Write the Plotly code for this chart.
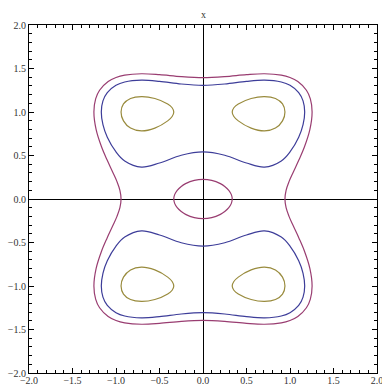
import plotly.graph_objects as go

# ---- contour curves (data coordinates) ----
# magenta level: outer closed curve
mag_outer_x = [0.942, 0.9551, 0.9889, 1.0332, 1.1031, 1.1664, 1.2289, 1.254, 1.234, 1.1887, 1.09, 1.0, 0.9, 0.7071, 0.5, 0.25, 0.0,
               -0.25, -0.5, -0.7071, -0.9, -1.0, -1.09, -1.1887, -1.234, -1.254, -1.2289, -1.1664, -1.1031, -1.0332, -0.9889, -0.9551, -0.942,
               -0.9551, -0.9889, -1.0332, -1.1031, -1.1664, -1.2289, -1.254, -1.234, -1.1887, -1.09, -1.0, -0.9, -0.7071, -0.5, -0.25, 0.0,
               0.25, 0.5, 0.7071, 0.9, 1.0, 1.09, 1.1887, 1.234, 1.254, 1.2289, 1.1664, 1.1031, 1.0332, 0.9889, 0.9551, 0.942]
mag_outer_y = [0.0, 0.1, 0.2, 0.3, 0.45, 0.6, 0.8, 1.0, 1.15, 1.25, 1.35, 1.396, 1.4236, 1.4397, 1.4293, 1.4071, 1.396,
               1.4071, 1.4293, 1.4397, 1.4236, 1.396, 1.35, 1.25, 1.15, 1.0, 0.8, 0.6, 0.45, 0.3, 0.2, 0.1, 0.0,
               -0.1, -0.2, -0.3, -0.45, -0.6, -0.8, -1.0, -1.15, -1.25, -1.35, -1.396, -1.4236, -1.4397, -1.4293, -1.4071, -1.396,
               -1.4071, -1.4293, -1.4397, -1.4236, -1.396, -1.35, -1.25, -1.15, -1.0, -0.8, -0.6, -0.45, -0.3, -0.2, -0.1, 0.0]

# magenta level: small loop round the origin
mag_inner_x = [0.3357, 0.326, 0.2963, 0.25, 0.2, 0.1, 0.0, -0.1, -0.2, -0.25, -0.2963, -0.326, -0.3357,
               -0.326, -0.2963, -0.25, -0.2, -0.1, 0.0, 0.1, 0.2, 0.25, 0.2963, 0.326, 0.3357]
mag_inner_y = [0.0, 0.05, 0.1, 0.1446, 0.1769, 0.2147, 0.2265, 0.2147, 0.1769, 0.1446, 0.1, 0.05, 0.0,
               -0.05, -0.1, -0.1446, -0.1769, -0.2147, -0.2265, -0.2147, -0.1769, -0.1446, -0.1, -0.05, 0.0]

# blue level: upper and lower closed curves
blue_up_x = [-1.1688, -1.15, -1.1, -1.0, -0.9, -0.7071, -0.5, -0.25, 0.0, 0.25, 0.5, 0.7071, 0.9, 1.0, 1.1, 1.15, 1.1688,
             1.15, 1.1, 1.0, 0.9, 0.7071, 0.5, 0.25, 0.0, -0.25, -0.5, -0.7071, -0.9, -1.0, -1.1, -1.15, -1.1688]
blue_up_y = [1.0, 1.1274, 1.2231, 1.3066, 1.3447, 1.366, 1.3525, 1.3219, 1.3066, 1.3219, 1.3525, 1.366, 1.3447, 1.3066, 1.2231, 1.1274, 1.0,
             0.8538, 0.71, 0.5412, 0.4375, 0.366, 0.4133, 0.5026, 0.5412, 0.5026, 0.4133, 0.366, 0.4375, 0.5412, 0.71, 0.8538, 1.0]
blue_lo_x = [-1.1688, -1.15, -1.1, -1.0, -0.9, -0.7071, -0.5, -0.25, 0.0, 0.25, 0.5, 0.7071, 0.9, 1.0, 1.1, 1.15, 1.1688,
             1.15, 1.1, 1.0, 0.9, 0.7071, 0.5, 0.25, 0.0, -0.25, -0.5, -0.7071, -0.9, -1.0, -1.1, -1.15, -1.1688]
blue_lo_y = [-1.0, -1.1274, -1.2231, -1.3066, -1.3447, -1.366, -1.3525, -1.3219, -1.3066, -1.3219, -1.3525, -1.366, -1.3447, -1.3066, -1.2231, -1.1274, -1.0,
             -0.8538, -0.71, -0.5412, -0.4375, -0.366, -0.4133, -0.5026, -0.5412, -0.5026, -0.4133, -0.366, -0.4375, -0.5412, -0.71, -0.8538, -1.0]

# gold level: four small loops
gold_ur_x = [0.942, 0.914, 0.833, 0.7071, 0.5534, 0.4057, 0.3548, 0.3357, 0.3548, 0.4057, 0.5534, 0.7071, 0.833, 0.914, 0.942]
gold_ur_y = [1.0, 1.0926, 1.1556, 1.1778, 1.1556, 1.0926, 1.0489, 1.0, 0.9486, 0.898, 0.8152, 0.7828, 0.8152, 0.898, 1.0]
gold_ul_x = [-0.942, -0.914, -0.833, -0.7071, -0.5534, -0.4057, -0.3548, -0.3357, -0.3548, -0.4057, -0.5534, -0.7071, -0.833, -0.914, -0.942]
gold_ul_y = [1.0, 1.0926, 1.1556, 1.1778, 1.1556, 1.0926, 1.0489, 1.0, 0.9486, 0.898, 0.8152, 0.7828, 0.8152, 0.898, 1.0]
gold_lr_x = [0.942, 0.914, 0.833, 0.7071, 0.5534, 0.4057, 0.3548, 0.3357, 0.3548, 0.4057, 0.5534, 0.7071, 0.833, 0.914, 0.942]
gold_lr_y = [-1.0, -1.0926, -1.1556, -1.1778, -1.1556, -1.0926, -1.0489, -1.0, -0.9486, -0.898, -0.8152, -0.7828, -0.8152, -0.898, -1.0]
gold_ll_x = [-0.942, -0.914, -0.833, -0.7071, -0.5534, -0.4057, -0.3548, -0.3357, -0.3548, -0.4057, -0.5534, -0.7071, -0.833, -0.914, -0.942]
gold_ll_y = [-1.0, -1.0926, -1.1556, -1.1778, -1.1556, -1.0926, -1.0489, -1.0, -0.9486, -0.898, -0.8152, -0.7828, -0.8152, -0.898, -1.0]

tick_vals = [-2.0, -1.5, -1.0, -0.5, 0.0, 0.5, 1.0, 1.5, 2.0]
axis_label = "x"

MAG = "#993D71"
BLUE = "#3D3D99"
GOLD = "#998B3D"

curves = [
    (mag_outer_x, mag_outer_y, MAG),
    (mag_inner_x, mag_inner_y, MAG),
    (blue_up_x, blue_up_y, BLUE),
    (blue_lo_x, blue_lo_y, BLUE),
    (gold_ur_x, gold_ur_y, GOLD),
    (gold_ul_x, gold_ul_y, GOLD),
    (gold_lr_x, gold_lr_y, GOLD),
    (gold_ll_x, gold_ll_y, GOLD),
]

fig = go.Figure()
for cx, cy, col in curves:
    fig.add_trace(go.Scatter(x=cx, y=cy, mode="lines",
                             line=dict(color=col, width=1.2, shape="spline", smoothing=1.0),
                             hoverinfo="skip", showlegend=False))

SERIF = "Liberation Serif"
font = dict(family=SERIF, size=10, color="#333333")
axis_common = dict(
    range=[-2, 2], showgrid=False, zeroline=True, zerolinecolor="black", zerolinewidth=1,
    showline=True, linecolor="black", linewidth=1, mirror="ticks",
    ticks="inside", ticklen=5, tickwidth=1, tickcolor="black",
    tickmode="array", tickvals=tick_vals, tickformat=".1f",
    minor=dict(dtick=0.1, tick0=0, ticks="inside", ticklen=3, tickwidth=1, tickcolor="black", showgrid=False),
    tickfont=font, fixedrange=True, ticklabeloverflow="allow",
)
fig.update_xaxes(ticklabelstandoff=-2, **axis_common)
fig.update_yaxes(ticklabelstandoff=0, **axis_common)

fig.add_annotation(x=0, y=1, xref="x", yref="paper", text=axis_label, showarrow=False,
                   yanchor="middle", yshift=11, font=dict(family=SERIF, size=10, color="#333333"))

fig.update_layout(
    width=382, height=385,
    margin=dict(l=29, r=5, t=25, b=12, autoexpand=False),
    plot_bgcolor="white", paper_bgcolor="white",
    showlegend=False,
)

fig.write_html("out.html", config={"displayModeBar": False},
               post_script="document.body.style.margin='0';")
